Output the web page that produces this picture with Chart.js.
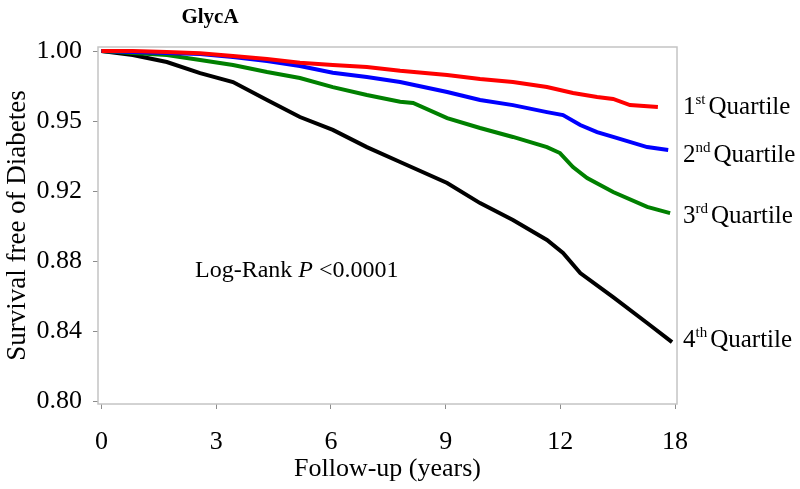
<!DOCTYPE html>
<html>
<head>
<meta charset="utf-8">
<script src="https://cdn.jsdelivr.net/npm/chart.js@4/dist/chart.umd.min.js"></script>
<style>
  html, body { margin: 0; padding: 0; background: #fff; }
  #wrap { width: 800px; height: 489px; }
</style>
</head>
<body>
<div id="wrap"><canvas id="km"></canvas></div>
<script>
// tick positions and the labels printed on them (as in the figure)
const xTickValues = [0, 3, 6, 9, 12, 15];
const xTickLabels = ['0', '3', '6', '9', '12', '18'];
const yTickValues = [0.80, 0.84, 0.88, 0.92, 0.96, 1.00];
const yTickLabels = ['0.80', '0.84', '0.88', '0.92', '0.95', '1.00'];

// follow-up position and survival
const q1X = [0, 0.82, 1.71, 2.58, 3.44, 4.33, 5.19, 6.05, 6.94, 7.81, 9.04, 9.90, 10.76, 11.65, 12.33, 12.96, 13.38, 13.82, 14.55];
const q1Y = [1.000, 1.000, 0.9994, 0.9987, 0.9971, 0.9954, 0.9933, 0.9920, 0.9909, 0.9887, 0.9863, 0.9840, 0.9823, 0.9794, 0.9760, 0.9737, 0.9726, 0.9691, 0.9680];

const q2X = [0, 0.82, 1.71, 2.58, 3.44, 4.33, 5.19, 6.05, 6.94, 7.81, 9.04, 9.90, 10.76, 11.65, 12.07, 12.52, 12.96, 13.38, 14.27, 14.82];
const q2Y = [1.000, 0.9994, 0.9989, 0.9983, 0.9966, 0.9943, 0.9914, 0.9876, 0.9851, 0.9823, 0.9766, 0.9720, 0.9691, 0.9651, 0.9634, 0.9577, 0.9537, 0.9509, 0.9451, 0.9434];

const q3X = [0, 0.82, 1.71, 2.58, 3.44, 4.33, 5.19, 6.05, 6.94, 7.81, 8.15, 9.04, 9.90, 10.76, 11.65, 11.99, 12.33, 12.70, 13.38, 14.27, 14.87];
const q3Y = [1.000, 0.9989, 0.9977, 0.9949, 0.9920, 0.9880, 0.9846, 0.9794, 0.9749, 0.9710, 0.9703, 0.9617, 0.9560, 0.9509, 0.9451, 0.9417, 0.9337, 0.9274, 0.9194, 0.9109, 0.9074];

const q4X = [0, 0.82, 1.71, 2.58, 3.44, 4.33, 5.19, 6.05, 6.94, 7.81, 9.04, 9.90, 10.76, 11.65, 12.07, 12.52, 13.38, 14.27, 14.92];
const q4Y = [1.000, 0.9977, 0.9937, 0.9874, 0.9823, 0.9720, 0.9623, 0.9549, 0.9451, 0.9366, 0.9246, 0.9131, 0.9034, 0.8920, 0.8846, 0.8731, 0.8594, 0.8446, 0.8337];

const seriesNames = [['1', 'st'], ['2', 'nd'], ['3', 'rd'], ['4', 'th']];
const seriesColors = ['#ff0000', '#0000ff', '#008000', '#000000'];

const SERIF = "'Liberation Serif', 'Times New Roman', serif";

const toPoints = (xs, ys) => xs.map((x, i) => ({ x, y: ys[i] }));
const allX = [q1X, q2X, q3X, q4X];
const allY = [q1Y, q2Y, q3Y, q4Y];

// frame, title, annotation and the quartile labels at the end of each curve
const decor = {
  id: 'decor',
  beforeDatasetsDraw(chart) {
    const { ctx, chartArea: a } = chart;
    ctx.save();
    ctx.strokeStyle = '#c4c4c4';
    ctx.lineWidth = 1.5;
    ctx.strokeRect(a.left, a.top, a.right - a.left, a.bottom - a.top);
    ctx.restore();
  },
  afterDraw(chart) {
    const { ctx, chartArea: a, scales } = chart;
    ctx.save();
    ctx.fillStyle = '#000';
    ctx.textBaseline = 'middle';

    ctx.font = 'bold 21px ' + SERIF;
    ctx.textAlign = 'center';
    ctx.fillText('GlycA', 210, 18);

    // Log-Rank P <0.0001
    ctx.textAlign = 'left';
    let x = 195;
    const y = 271;
    ctx.font = '24px ' + SERIF;
    ctx.fillText('Log-Rank ', x, y);
    x += ctx.measureText('Log-Rank ').width;
    ctx.font = 'italic 24px ' + SERIF;
    ctx.fillText('P', x, y);
    x += ctx.measureText('P').width;
    ctx.font = '24px ' + SERIF;
    ctx.fillText(' <0.0001', x, y);

    const offsets = [0, 5, 3, -2];
    seriesNames.forEach((nm, i) => {
      const ys = allY[i];
      const py = scales.y.getPixelForValue(ys[ys.length - 1]) + offsets[i];
      let lx = a.right + 6;
      ctx.font = '25px ' + SERIF;
      ctx.fillText(nm[0], lx, py);
      lx += ctx.measureText(nm[0]).width;
      ctx.font = '15px ' + SERIF;
      ctx.fillText(nm[1], lx, py - 7);
      lx += ctx.measureText(nm[1]).width + 3;
      ctx.font = '25px ' + SERIF;
      ctx.fillText('Quartile', lx, py);
    });
    ctx.restore();
  }
};

new Chart(document.getElementById('km'), {
  type: 'line',
  data: {
    datasets: allX.map((xs, i) => ({
      label: seriesNames[i].join('') + ' Quartile',
      data: toPoints(xs, allY[i]),
      borderColor: seriesColors[i],
      borderWidth: 4,
      pointRadius: 0,
      tension: 0,
      fill: false,
      clip: false
    }))
  },
  options: {
    responsive: true,
    maintainAspectRatio: false,
    animation: false,
    events: [],
    layout: { padding: { top: 47, right: 123, left: 0, bottom: 0 } },
    plugins: {
      legend: { display: false },
      tooltip: { enabled: false },
      title: { display: false }
    },
    scales: {
      x: {
        type: 'linear',
        min: -0.09,
        max: 15.05,
        afterBuildTicks: (s) => { s.ticks = xTickValues.map((v) => ({ value: v })); },
        afterFit: (s) => { s.height = 85; },
        ticks: {
          color: '#000',
          font: { family: SERIF, size: 26 },
          padding: 18,
          maxRotation: 0,
          callback: (v) => xTickLabels[xTickValues.indexOf(v)]
        },
        grid: { drawOnChartArea: false, drawTicks: true, tickLength: 5, color: '#8c8c8c' },
        border: { display: false },
        title: {
          display: true,
          text: 'Follow-up (years)',
          color: '#000',
          font: { family: SERIF, size: 26 },
          padding: { top: 0, bottom: 4 }
        }
      },
      y: {
        type: 'linear',
        min: 0.7983,
        max: 1.0023,
        afterBuildTicks: (s) => { s.ticks = yTickValues.map((v) => ({ value: v })); },
        afterFit: (s) => { s.width = 98; },
        ticks: {
          color: '#000',
          font: { family: SERIF, size: 26 },
          padding: 11,
          callback: (v) => yTickLabels[yTickValues.findIndex((t) => Math.abs(t - v) < 1e-6)]
        },
        grid: { drawOnChartArea: false, drawTicks: true, tickLength: 5, color: '#8c8c8c' },
        border: { display: false },
        title: {
          display: true,
          text: 'Survival free of Diabetes',
          color: '#000',
          font: { family: SERIF, size: 27 },
          padding: { top: 2, bottom: 0 }
        }
      }
    }
  },
  plugins: [decor]
});
</script>
</body>
</html>
